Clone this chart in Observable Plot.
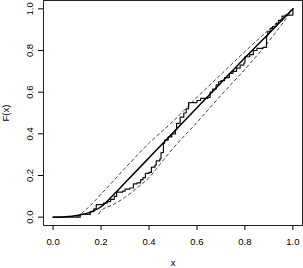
<!DOCTYPE html>
<html>
<head>
<meta charset="utf-8">
<script src="https://cdn.jsdelivr.net/npm/d3@7"></script>
<script src="https://cdn.jsdelivr.net/npm/@observablehq/plot@0.6"></script>
<style>
  html, body { margin: 0; padding: 0; background: #fff; }
  svg { display: block; overflow: visible; }
</style>
</head>
<body>
<div id="chart"></div>
<script>
// Theoretical CDF (solid curve)
const cdfX = [0, 0.05, 0.1, 0.15, 0.2, 0.25, 0.3, 0.4, 0.5, 0.6, 0.7, 0.8, 0.9, 1.0];
const cdfY = [0, 0.002, 0.008, 0.022, 0.05, 0.105, 0.165, 0.285, 0.405, 0.525, 0.645, 0.765, 0.882, 1.0];

// Upper confidence band (dashed)
const upX = [0.1, 0.15, 0.2, 0.3, 0.4, 0.5, 0.6, 0.7, 0.8, 0.9, 0.95, 1.0];
const upY = [0.0, 0.05, 0.11, 0.235, 0.355, 0.46, 0.575, 0.685, 0.795, 0.9, 0.95, 1.0];

// Lower confidence band (dashed)
const loX = [0.19, 0.2, 0.25, 0.3, 0.35, 0.4, 0.45, 0.5, 0.6, 0.7, 0.8, 0.9, 0.95, 1.0];
const loY = [0.015, 0.03, 0.06, 0.095, 0.14, 0.19, 0.26, 0.33, 0.455, 0.585, 0.71, 0.845, 0.92, 1.0];

// Empirical CDF (step function): jump locations and values after jump
const ecdfX = [0, 0.113, 0.155, 0.17, 0.18, 0.21, 0.225, 0.24, 0.255, 0.265, 0.29, 0.30, 0.32, 0.335, 0.35, 0.365, 0.375, 0.385, 0.40, 0.41, 0.425, 0.43, 0.445, 0.45, 0.46, 0.465, 0.48, 0.495, 0.51, 0.515, 0.53, 0.545, 0.555, 0.565, 0.60, 0.615, 0.645, 0.655, 0.665, 0.68, 0.69, 0.70, 0.715, 0.735, 0.75, 0.765, 0.78, 0.795, 0.80, 0.82, 0.835, 0.85, 0.875, 0.89, 0.895, 0.905, 0.915, 0.93, 0.94, 0.955, 0.97, 1.0];
const ecdfY = [0, 0.013, 0.027, 0.04, 0.06, 0.067, 0.075, 0.085, 0.10, 0.12, 0.125, 0.135, 0.14, 0.16, 0.165, 0.18, 0.19, 0.21, 0.215, 0.24, 0.25, 0.27, 0.28, 0.31, 0.355, 0.37, 0.385, 0.40, 0.42, 0.45, 0.48, 0.50, 0.52, 0.55, 0.56, 0.57, 0.575, 0.60, 0.615, 0.635, 0.65, 0.655, 0.67, 0.69, 0.70, 0.715, 0.73, 0.74, 0.77, 0.78, 0.80, 0.81, 0.815, 0.87, 0.89, 0.905, 0.915, 0.93, 0.945, 0.965, 0.97, 1.0];

const xTicks = [0, 0.2, 0.4, 0.6, 0.8, 1.0];
const yTicks = [0, 0.2, 0.4, 0.6, 0.8, 1.0];
const xLabel = "x";
const yLabel = "F(x)";

const zip = (xs, ys) => xs.map((x, i) => ({x, y: ys[i]}));
const cdf = zip(cdfX, cdfY);
const up = zip(upX, upY);
const lo = zip(loX, loY);
const ecdf = zip(ecdfX, ecdfY);

const font = "'Liberation Sans', Arial, Helvetica, sans-serif";
const fs = 9.5;

const chart = Plot.plot({
  width: 303,
  height: 268,
  marginLeft: 43,
  marginRight: 1,
  marginTop: 0,
  marginBottom: 43,
  style: {fontFamily: font, fontSize: fs + "px", color: "#000", background: "#fff", overflow: "visible"},
  x: {domain: [-0.04, 1.04]},
  y: {domain: [-0.04, 1.04]},
  marks: [
    Plot.frame({stroke: "#222", strokeWidth: 1}),
    Plot.axisX({ticks: xTicks, tickSize: 5, tickPadding: 8, tickFormat: d3.format(".1f"), label: null, fontSize: fs}),
    Plot.axisY({ticks: yTicks, tickSize: 5, tickFormat: () => "", label: null}),
    Plot.text(yTicks, {y: d => d, text: d => d3.format(".1f")(d), frameAnchor: "left", textAnchor: "middle", lineAnchor: "middle", dx: -14, rotate: -90, fontSize: fs}),
    Plot.text([xLabel], {frameAnchor: "bottom", lineAnchor: "middle", dy: 37.5, fontSize: fs}),
    Plot.text([yLabel], {frameAnchor: "left", textAnchor: "middle", lineAnchor: "middle", dx: -38, rotate: -90, fontSize: fs}),
    Plot.line(up, {x: "x", y: "y", stroke: "#444", strokeWidth: 1, strokeDasharray: "3,3", curve: "monotone-x"}),
    Plot.line(lo, {x: "x", y: "y", stroke: "#444", strokeWidth: 1, strokeDasharray: "3,3", curve: "monotone-x"}),
    Plot.line(ecdf, {x: "x", y: "y", stroke: "#111", strokeWidth: 1.2, curve: "step-after"}),
    Plot.line(cdf, {x: "x", y: "y", stroke: "#000", strokeWidth: 1.5, curve: "monotone-x"})
  ]
});
document.getElementById("chart").appendChild(chart);
</script>
</body>
</html>
